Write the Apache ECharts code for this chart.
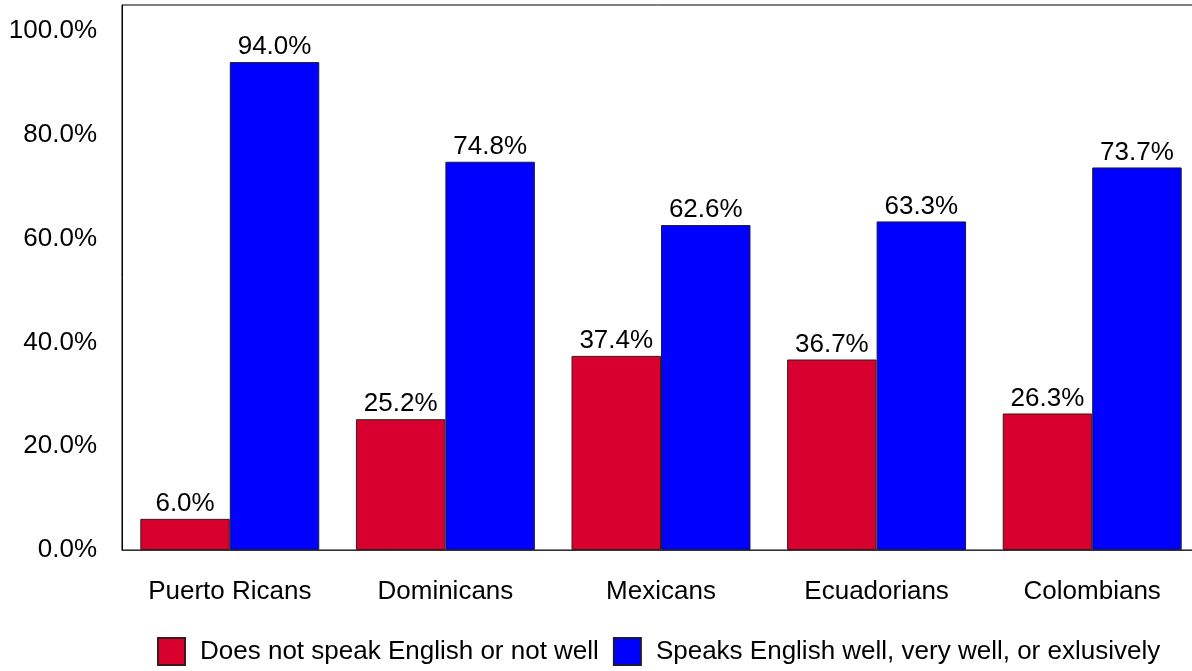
<!DOCTYPE html>
<html>
<head>
<meta charset="utf-8">
<script src="https://cdn.jsdelivr.net/npm/echarts@6/dist/echarts.min.js"></script>
<style>
  html, body { margin: 0; padding: 0; background: #fff; }
  #chart { width: 1192px; height: 671px; }
</style>
</head>
<body>
<div id="chart"></div>
<script>
var categories = ['Puerto Ricans', 'Dominicans', 'Mexicans', 'Ecuadorians', 'Colombians'];
var notWell = [6.0, 25.2, 37.4, 36.7, 26.3];
var speaksWell = [94.0, 74.8, 62.6, 63.3, 73.7];
var seriesNames = ['Does not speak English or not well', 'Speaks English well, very well, or exlusively'];

var font = 'Liberation Sans, Arial, sans-serif';
var pct = function (v) { return Number(v).toFixed(1) + '%'; };

var myChart = echarts.init(document.getElementById('chart'));
var option = {
  animation: false,
  textStyle: { fontFamily: font },
  grid: {
    left: 122,
    top: 5,
    width: 1078,
    height: 545,
    outerBoundsMode: 'none',
    show: true,
    borderColor: '#000',
    borderWidth: 1
  },
  legend: {
    left: 157,
    top: 637,
    padding: 0,
    itemWidth: 27,
    itemHeight: 27,
    itemGap: 14,
    icon: 'rect',
    textStyle: { fontSize: 26, color: '#000', fontFamily: font, padding: [0, 0, 0, 10] },
    data: seriesNames
  },
  xAxis: {
    type: 'category',
    data: categories,
    axisLine: { lineStyle: { color: '#333', width: 1 } },
    axisTick: { show: false },
    axisLabel: { fontSize: 26, color: '#000', margin: 29, fontFamily: font }
  },
  yAxis: {
    type: 'value',
    min: 0,
    max: 105,
    interval: 20,
    splitLine: { show: false },
    axisLine: { show: true, lineStyle: { color: '#000' } },
    axisTick: { show: false },
    axisLabel: {
      fontSize: 26,
      color: '#000',
      margin: 25,
      fontFamily: font,
      showMaxLabel: false,
      formatter: pct
    }
  },
  series: [
    {
      name: seriesNames[0],
      type: 'bar',
      data: notWell,
      barGap: '0%',
      barCategoryGap: '17%',
      itemStyle: { color: '#d7002e', borderColor: '#3a1a1a', borderWidth: 1 },
      label: {
        show: true, position: 'top', distance: 2,
        fontSize: 26, color: '#000', fontFamily: font,
        formatter: function (p) { return pct(p.value); }
      }
    },
    {
      name: seriesNames[1],
      type: 'bar',
      data: speaksWell,
      barGap: '0%',
      barCategoryGap: '17%',
      itemStyle: { color: '#0000ff', borderColor: '#1a1a3a', borderWidth: 1 },
      label: {
        show: true, position: 'top', distance: 2,
        fontSize: 26, color: '#000', fontFamily: font,
        formatter: function (p) { return pct(p.value); }
      }
    }
  ]
};
myChart.setOption(option);
</script>
</body>
</html>
